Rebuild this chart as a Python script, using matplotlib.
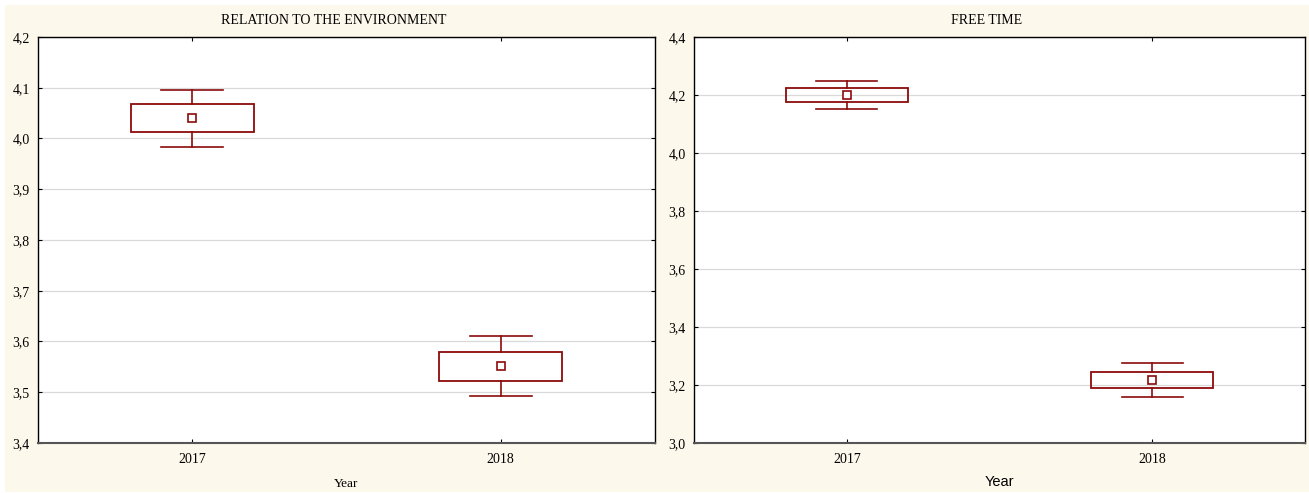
import numpy as np
import matplotlib.pyplot as plt
from matplotlib.patches import Rectangle
from matplotlib.ticker import FuncFormatter, MultipleLocator

years = ["2017", "2018"]

# relation to the environment: mean, box (mean +/- SE), whiskers (mean +/- 1.96 SE)
env_mean = [4.040, 3.552]
env_box_lo = [4.013, 3.522]
env_box_hi = [4.068, 3.580]
env_wh_lo = [3.984, 3.493]
env_wh_hi = [4.096, 3.611]

# free time
free_mean = [4.200, 3.217]
free_box_lo = [4.176, 3.189]
free_box_hi = [4.225, 3.246]
free_wh_lo = [4.153, 3.160]
free_wh_hi = [4.249, 3.276]

RED = "#8b0b0b"
CREAM = "#fdf8ec"
serif = ["Liberation Serif", "DejaVu Serif"]


def comma(v, pos):
    return ("%.1f" % v).replace(".", ",")


def draw_panel(ax, title, mean, blo, bhi, wlo, whi, ylim, ystep, xlab_family, width_px):
    pos = np.arange(1, len(years) + 1)
    bw, cw = 0.4, 0.2
    for x, m, b0, b1, w0, w1 in zip(pos, mean, blo, bhi, wlo, whi):
        ax.add_patch(Rectangle((x - bw / 2, b0), bw, b1 - b0, fill=False,
                               edgecolor=RED, lw=1.3, zorder=3))
        ax.plot([x, x], [b1, w1], color=RED, lw=1.2, zorder=3)
        ax.plot([x, x], [w0, b0], color=RED, lw=1.2, zorder=3)
        ax.plot([x - cw / 2, x + cw / 2], [w1, w1], color=RED, lw=1.2, zorder=3)
        ax.plot([x - cw / 2, x + cw / 2], [w0, w0], color=RED, lw=1.2, zorder=3)
        ax.plot([x], [m], marker="s", ms=6, mfc="white", mec=RED, mew=1.2, zorder=4)
    ax.set_xlim(0.5, len(years) + 0.5)
    ax.set_ylim(*ylim)
    ax.set_xticks(pos)
    ax.set_xticklabels(years, family=serif, fontsize=10)
    ax.yaxis.set_major_locator(MultipleLocator(ystep))
    ax.yaxis.set_major_formatter(FuncFormatter(comma))
    for lab in ax.get_yticklabels():
        lab.set_family(serif)
    ax.tick_params(labelsize=10, direction="in", length=3, top=True, right=True)
    ax.tick_params(axis="x", pad=7)
    ax.tick_params(axis="y", pad=6)
    ax.grid(axis="y", color="#d9d9d9", lw=0.9)
    ax.set_axisbelow(True)
    for s in ax.spines.values():
        s.set_linewidth(1.0)
    ax.spines["bottom"].set_color("#555555")
    ax.spines["bottom"].set_linewidth(1.5)
    ax.set_title(title, family=serif, fontsize=10, pad=9, x=0.5 - 13 / width_px)
    if xlab_family == "serif":
        ax.set_xlabel("Year", family=serif, fontsize=9.5, labelpad=9)
    else:
        ax.set_xlabel("Year", family="Liberation Sans", fontsize=10.5, labelpad=7)


fig = plt.figure(figsize=(13.09, 4.93), dpi=100, facecolor="white")
fig.patches.append(Rectangle((5 / 1309, 1 / 493), 1304 / 1309, 487 / 493,
                             transform=fig.transFigure, facecolor=CREAM,
                             edgecolor="none", zorder=-10))

ax1 = fig.add_axes([38 / 1309, 50 / 493, 617 / 1309, 406 / 493])
ax2 = fig.add_axes([694 / 1309, 50 / 493, 611 / 1309, 406 / 493])

draw_panel(ax1, "RELATION TO THE ENVIRONMENT", env_mean, env_box_lo, env_box_hi,
           env_wh_lo, env_wh_hi, (3.4, 4.2), 0.1, "serif", 617)
draw_panel(ax2, "FREE TIME", free_mean, free_box_lo, free_box_hi,
           free_wh_lo, free_wh_hi, (3.0, 4.4), 0.2, "sans", 611)

fig.savefig("out.png", dpi=100, facecolor=fig.get_facecolor())
